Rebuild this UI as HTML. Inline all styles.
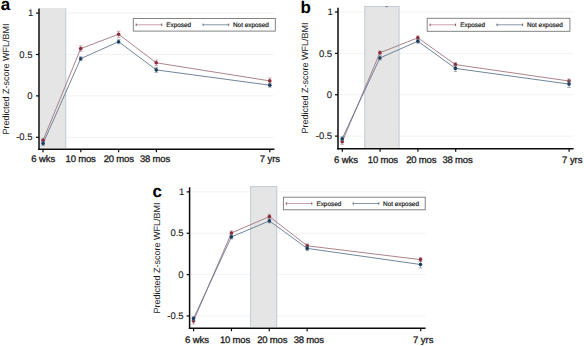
<!DOCTYPE html>
<html><head><meta charset="utf-8"><style>
html,body{margin:0;padding:0;background:#fff;width:584px;height:346px;overflow:hidden}
svg{display:block}
text{font-family:"Liberation Sans", sans-serif;fill:#1a1a1a;text-rendering:geometricPrecision}
.tk{font-size:9.5px;stroke:#1a1a1a;stroke-width:0.3px;letter-spacing:-0.05px}
.yt{stroke-width:0.12px}
.yl{font-size:9px}
.lg{font-size:6.4px;stroke:#1a1a1a;stroke-width:0.2px}
.pl{font-size:17px;font-weight:bold;fill:#000}
</style></head><body>
<svg width="584" height="346" viewBox="0 0 584 346">
<line x1="40" y1="13.1" x2="274.4" y2="13.1" stroke="#f1f2f3" stroke-width="1"/>
<line x1="40" y1="54.5" x2="274.4" y2="54.5" stroke="#f1f2f3" stroke-width="1"/>
<line x1="40" y1="95.9" x2="274.4" y2="95.9" stroke="#f1f2f3" stroke-width="1"/>
<line x1="40" y1="137.3" x2="274.4" y2="137.3" stroke="#f1f2f3" stroke-width="1"/>
<rect x="40" y="8" width="26.2" height="140" fill="#e5e5e5"/>
<line x1="65.7" y1="8" x2="65.7" y2="148" stroke="#c2ccd8" stroke-width="1"/>
<line x1="39" y1="8.4" x2="39" y2="150.1" stroke="#0a0a0a" stroke-width="1.5"/>
<line x1="38.25" y1="149.3" x2="274.4" y2="149.3" stroke="#0a0a0a" stroke-width="1.5"/>
<line x1="36" y1="13.1" x2="39" y2="13.1" stroke="#0a0a0a" stroke-width="1.2"/>
<text x="33.2" y="16.2" text-anchor="end" class="tk yt">1</text>
<line x1="36" y1="54.5" x2="39" y2="54.5" stroke="#0a0a0a" stroke-width="1.2"/>
<text x="32.4" y="57.6" text-anchor="end" class="tk yt">0.5</text>
<line x1="36" y1="95.9" x2="39" y2="95.9" stroke="#0a0a0a" stroke-width="1.2"/>
<text x="32.4" y="99" text-anchor="end" class="tk yt">0</text>
<line x1="36" y1="137.3" x2="39" y2="137.3" stroke="#0a0a0a" stroke-width="1.2"/>
<text x="32.4" y="140.4" text-anchor="end" class="tk yt">-0.5</text>
<line x1="43" y1="149.3" x2="43" y2="152.3" stroke="#0a0a0a" stroke-width="1.2"/>
<text x="43.15" y="161.9" text-anchor="middle" class="tk">6 wks</text>
<line x1="80.8" y1="149.3" x2="80.8" y2="152.3" stroke="#0a0a0a" stroke-width="1.2"/>
<text x="80.6" y="161.9" text-anchor="middle" class="tk" style="letter-spacing:-0.18px">10 mos</text>
<line x1="118.6" y1="149.3" x2="118.6" y2="152.3" stroke="#0a0a0a" stroke-width="1.2"/>
<text x="118.7" y="161.9" text-anchor="middle" class="tk" style="letter-spacing:-0.18px">20 mos</text>
<line x1="156.4" y1="149.3" x2="156.4" y2="152.3" stroke="#0a0a0a" stroke-width="1.2"/>
<text x="155" y="161.9" text-anchor="middle" class="tk" style="letter-spacing:-0.18px">38 mos</text>
<line x1="269.8" y1="149.3" x2="269.8" y2="152.3" stroke="#0a0a0a" stroke-width="1.2"/>
<text x="269.85" y="161.9" text-anchor="middle" class="tk">7 yrs</text>
<text transform="translate(8.8,78.9) rotate(-90)" text-anchor="middle" class="yl">Predicted Z-score WFL/BMI</text>
<text x="0.8" y="10" class="pl">a</text>
<polyline points="43.1,140.2 80.7,48.6 118.6,34.25 156.25,62.8 269.8,80.9" fill="none" stroke="#a27680" stroke-width="0.9"/>
<polyline points="43.1,143.4 80.7,58.7 118.6,41.7 156.25,69.9 269.8,85.2" fill="none" stroke="#62788e" stroke-width="0.9"/>
<path d="M43.1,138.2V142.2M41.3,138.2H44.9M41.3,142.2H44.9" stroke="#a27680" stroke-width="0.7" fill="none" opacity="0.8"/>
<circle cx="43.1" cy="140.2" r="1.8" fill="#8c2a3a"/>
<path d="M80.7,45.8V51.4M78.9,45.8H82.5M78.9,51.4H82.5" stroke="#a27680" stroke-width="0.7" fill="none" opacity="0.8"/>
<circle cx="80.7" cy="48.6" r="1.8" fill="#8c2a3a"/>
<path d="M118.6,31.25V37.25M116.8,31.25H120.4M116.8,37.25H120.4" stroke="#a27680" stroke-width="0.7" fill="none" opacity="0.8"/>
<circle cx="118.6" cy="34.25" r="1.8" fill="#8c2a3a"/>
<path d="M156.25,60V65.6M154.45,60H158.05M154.45,65.6H158.05" stroke="#a27680" stroke-width="0.7" fill="none" opacity="0.8"/>
<circle cx="156.25" cy="62.8" r="1.8" fill="#8c2a3a"/>
<path d="M269.8,77.9V83.9M268,77.9H271.6M268,83.9H271.6" stroke="#a27680" stroke-width="0.7" fill="none" opacity="0.8"/>
<circle cx="269.8" cy="80.9" r="1.8" fill="#8c2a3a"/>
<path d="M43.1,141.4V145.4M41.3,141.4H44.9M41.3,145.4H44.9" stroke="#62788e" stroke-width="0.7" fill="none" opacity="0.8"/>
<circle cx="43.1" cy="143.4" r="1.8" fill="#1c3f60"/>
<path d="M80.7,56.7V60.7M78.9,56.7H82.5M78.9,60.7H82.5" stroke="#62788e" stroke-width="0.7" fill="none" opacity="0.8"/>
<circle cx="80.7" cy="58.7" r="1.8" fill="#1c3f60"/>
<path d="M118.6,39.7V43.7M116.8,39.7H120.4M116.8,43.7H120.4" stroke="#62788e" stroke-width="0.7" fill="none" opacity="0.8"/>
<circle cx="118.6" cy="41.7" r="1.8" fill="#1c3f60"/>
<path d="M156.25,67.4V72.4M154.45,67.4H158.05M154.45,72.4H158.05" stroke="#62788e" stroke-width="0.7" fill="none" opacity="0.8"/>
<circle cx="156.25" cy="69.9" r="1.8" fill="#1c3f60"/>
<path d="M269.8,83.2V87.2M268,83.2H271.6M268,87.2H271.6" stroke="#62788e" stroke-width="0.7" fill="none" opacity="0.8"/>
<circle cx="269.8" cy="85.2" r="1.8" fill="#1c3f60"/>
<rect x="133.3" y="18.45" width="142" height="12.65" fill="#fff" stroke="#777" stroke-width="0.9"/>
<path d="M136.2,24.77H161.7" stroke="#c9a0a8" stroke-width="1" fill="none"/>
<path d="M136.2,23.57V25.97M161.7,23.57V25.97" stroke="#5a4048" stroke-width="1" fill="none" opacity="0.85"/>
<text x="166.3" y="27.38" class="lg">Exposed</text>
<path d="M203.1,24.77H228.7" stroke="#8898aa" stroke-width="1" fill="none"/>
<path d="M203.1,23.57V25.97M228.7,23.57V25.97" stroke="#42505e" stroke-width="1" fill="none" opacity="0.85"/>
<text x="233" y="27.38" class="lg">Not exposed</text>
<line x1="339" y1="12.05" x2="573.6" y2="12.05" stroke="#f1f2f3" stroke-width="1"/>
<line x1="339" y1="53.4" x2="573.6" y2="53.4" stroke="#f1f2f3" stroke-width="1"/>
<line x1="339" y1="94.75" x2="573.6" y2="94.75" stroke="#f1f2f3" stroke-width="1"/>
<line x1="339" y1="136.1" x2="573.6" y2="136.1" stroke="#f1f2f3" stroke-width="1"/>
<rect x="364.3" y="6" width="35.2" height="142" fill="#e5e5e5"/>
<line x1="399" y1="6" x2="399" y2="148" stroke="#c2ccd8" stroke-width="1"/>
<line x1="364.8" y1="6" x2="364.8" y2="148" stroke="#c2ccd8" stroke-width="1"/>
<line x1="364.3" y1="6.5" x2="399.5" y2="6.5" stroke="#c2ccd8" stroke-width="1"/>
<line x1="338" y1="7.8" x2="338" y2="149.6" stroke="#0a0a0a" stroke-width="1.5"/>
<line x1="337.25" y1="148.8" x2="573.6" y2="148.8" stroke="#0a0a0a" stroke-width="1.5"/>
<line x1="335" y1="12.05" x2="338" y2="12.05" stroke="#0a0a0a" stroke-width="1.2"/>
<text x="332.8" y="15.15" text-anchor="end" class="tk yt">1</text>
<line x1="335" y1="53.4" x2="338" y2="53.4" stroke="#0a0a0a" stroke-width="1.2"/>
<text x="332" y="56.5" text-anchor="end" class="tk yt">0.5</text>
<line x1="335" y1="94.75" x2="338" y2="94.75" stroke="#0a0a0a" stroke-width="1.2"/>
<text x="332" y="97.85" text-anchor="end" class="tk yt">0</text>
<line x1="335" y1="136.1" x2="338" y2="136.1" stroke="#0a0a0a" stroke-width="1.2"/>
<text x="332" y="139.2" text-anchor="end" class="tk yt">-0.5</text>
<line x1="342.3" y1="148.8" x2="342.3" y2="151.8" stroke="#0a0a0a" stroke-width="1.2"/>
<text x="345.95" y="162.6" text-anchor="middle" class="tk">6 wks</text>
<line x1="380.1" y1="148.8" x2="380.1" y2="151.8" stroke="#0a0a0a" stroke-width="1.2"/>
<text x="382.9" y="162.6" text-anchor="middle" class="tk" style="letter-spacing:-0.18px">10 mos</text>
<line x1="417.9" y1="148.8" x2="417.9" y2="151.8" stroke="#0a0a0a" stroke-width="1.2"/>
<text x="421.25" y="162.6" text-anchor="middle" class="tk" style="letter-spacing:-0.18px">20 mos</text>
<line x1="455.7" y1="148.8" x2="455.7" y2="151.8" stroke="#0a0a0a" stroke-width="1.2"/>
<text x="457.5" y="162.6" text-anchor="middle" class="tk" style="letter-spacing:-0.18px">38 mos</text>
<line x1="569.1" y1="148.8" x2="569.1" y2="151.8" stroke="#0a0a0a" stroke-width="1.2"/>
<text x="572.25" y="162.6" text-anchor="middle" class="tk">7 yrs</text>
<text transform="translate(308.3,77.9) rotate(-90)" text-anchor="middle" class="yl">Predicted Z-score WFL/BMI</text>
<text x="300.4" y="13.4" class="pl">b</text>
<polyline points="342.2,141.8 379.9,52.8 417.85,37.8 455.4,64.6 569,81" fill="none" stroke="#a27680" stroke-width="0.9"/>
<polyline points="342.2,138.7 379.9,58 417.85,41.2 455.4,68.4 569,84.1" fill="none" stroke="#62788e" stroke-width="0.9"/>
<path d="M342.2,139.2V144.4M340.4,139.2H344M340.4,144.4H344" stroke="#a27680" stroke-width="0.7" fill="none" opacity="0.8"/>
<circle cx="342.2" cy="141.8" r="1.8" fill="#8c2a3a"/>
<path d="M379.9,50.8V54.8M378.1,50.8H381.7M378.1,54.8H381.7" stroke="#a27680" stroke-width="0.7" fill="none" opacity="0.8"/>
<circle cx="379.9" cy="52.8" r="1.8" fill="#8c2a3a"/>
<path d="M417.85,35.8V39.8M416.05,35.8H419.65M416.05,39.8H419.65" stroke="#a27680" stroke-width="0.7" fill="none" opacity="0.8"/>
<circle cx="417.85" cy="37.8" r="1.8" fill="#8c2a3a"/>
<path d="M455.4,62.6V66.6M453.6,62.6H457.2M453.6,66.6H457.2" stroke="#a27680" stroke-width="0.7" fill="none" opacity="0.8"/>
<circle cx="455.4" cy="64.6" r="1.8" fill="#8c2a3a"/>
<path d="M569,79V83M567.2,79H570.8M567.2,83H570.8" stroke="#a27680" stroke-width="0.7" fill="none" opacity="0.8"/>
<circle cx="569" cy="81" r="1.8" fill="#8c2a3a"/>
<path d="M342.2,136.7V140.7M340.4,136.7H344M340.4,140.7H344" stroke="#62788e" stroke-width="0.7" fill="none" opacity="0.8"/>
<circle cx="342.2" cy="138.7" r="1.8" fill="#1c3f60"/>
<path d="M379.9,56V60M378.1,56H381.7M378.1,60H381.7" stroke="#62788e" stroke-width="0.7" fill="none" opacity="0.8"/>
<circle cx="379.9" cy="58" r="1.8" fill="#1c3f60"/>
<path d="M417.85,39.2V43.2M416.05,39.2H419.65M416.05,43.2H419.65" stroke="#62788e" stroke-width="0.7" fill="none" opacity="0.8"/>
<circle cx="417.85" cy="41.2" r="1.8" fill="#1c3f60"/>
<path d="M455.4,65.4V71.4M453.6,65.4H457.2M453.6,71.4H457.2" stroke="#62788e" stroke-width="0.7" fill="none" opacity="0.8"/>
<circle cx="455.4" cy="68.4" r="1.8" fill="#1c3f60"/>
<path d="M569,80.7V87.5M567.2,80.7H570.8M567.2,87.5H570.8" stroke="#62788e" stroke-width="0.7" fill="none" opacity="0.8"/>
<circle cx="569" cy="84.1" r="1.8" fill="#1c3f60"/>
<rect x="427.2" y="18.3" width="142.7" height="13" fill="#fff" stroke="#777" stroke-width="0.9"/>
<path d="M430.1,24.8H455.6" stroke="#c9a0a8" stroke-width="1" fill="none"/>
<path d="M430.1,23.6V26M455.6,23.6V26" stroke="#5a4048" stroke-width="1" fill="none" opacity="0.85"/>
<text x="460.2" y="27.4" class="lg">Exposed</text>
<path d="M497,24.8H522.6" stroke="#8898aa" stroke-width="1" fill="none"/>
<path d="M497,23.6V26M522.6,23.6V26" stroke="#42505e" stroke-width="1" fill="none" opacity="0.85"/>
<text x="526.9" y="27.4" class="lg">Not exposed</text>
<line x1="190.6" y1="191.9" x2="425.6" y2="191.9" stroke="#f1f2f3" stroke-width="1"/>
<line x1="190.6" y1="233.25" x2="425.6" y2="233.25" stroke="#f1f2f3" stroke-width="1"/>
<line x1="190.6" y1="274.6" x2="425.6" y2="274.6" stroke="#f1f2f3" stroke-width="1"/>
<line x1="190.6" y1="315.95" x2="425.6" y2="315.95" stroke="#f1f2f3" stroke-width="1"/>
<rect x="250.1" y="186.1" width="27.1" height="140.9" fill="#e5e5e5"/>
<line x1="276.7" y1="186.1" x2="276.7" y2="327" stroke="#c2ccd8" stroke-width="1"/>
<line x1="250.6" y1="186.1" x2="250.6" y2="327" stroke="#c2ccd8" stroke-width="1"/>
<line x1="250.1" y1="186.6" x2="277.2" y2="186.6" stroke="#c2ccd8" stroke-width="1"/>
<line x1="189.6" y1="187.3" x2="189.6" y2="329" stroke="#0a0a0a" stroke-width="1.5"/>
<line x1="188.85" y1="328.2" x2="425.6" y2="328.2" stroke="#0a0a0a" stroke-width="1.5"/>
<line x1="186.6" y1="191.9" x2="189.6" y2="191.9" stroke="#0a0a0a" stroke-width="1.2"/>
<text x="184.3" y="195" text-anchor="end" class="tk yt">1</text>
<line x1="186.6" y1="233.25" x2="189.6" y2="233.25" stroke="#0a0a0a" stroke-width="1.2"/>
<text x="183.5" y="236.35" text-anchor="end" class="tk yt">0.5</text>
<line x1="186.6" y1="274.6" x2="189.6" y2="274.6" stroke="#0a0a0a" stroke-width="1.2"/>
<text x="183.5" y="277.7" text-anchor="end" class="tk yt">0</text>
<line x1="186.6" y1="315.95" x2="189.6" y2="315.95" stroke="#0a0a0a" stroke-width="1.2"/>
<text x="183.5" y="319.05" text-anchor="end" class="tk yt">-0.5</text>
<line x1="193.6" y1="328.2" x2="193.6" y2="331.2" stroke="#0a0a0a" stroke-width="1.2"/>
<text x="196.9" y="342.7" text-anchor="middle" class="tk">6 wks</text>
<line x1="231.45" y1="328.2" x2="231.45" y2="331.2" stroke="#0a0a0a" stroke-width="1.2"/>
<text x="235" y="342.7" text-anchor="middle" class="tk" style="letter-spacing:-0.18px">10 mos</text>
<line x1="269.3" y1="328.2" x2="269.3" y2="331.2" stroke="#0a0a0a" stroke-width="1.2"/>
<text x="272.25" y="342.7" text-anchor="middle" class="tk" style="letter-spacing:-0.18px">20 mos</text>
<line x1="307.15" y1="328.2" x2="307.15" y2="331.2" stroke="#0a0a0a" stroke-width="1.2"/>
<text x="308.7" y="342.7" text-anchor="middle" class="tk" style="letter-spacing:-0.18px">38 mos</text>
<line x1="420.7" y1="328.2" x2="420.7" y2="331.2" stroke="#0a0a0a" stroke-width="1.2"/>
<text x="423.2" y="342.7" text-anchor="middle" class="tk">7 yrs</text>
<text transform="translate(159.5,258) rotate(-90)" text-anchor="middle" class="yl">Predicted Z-score WFL/BMI</text>
<text x="152.5" y="196.8" class="pl">c</text>
<polyline points="193.5,321 231.4,233 269.4,216.5 307.2,245.8 420.5,259.6" fill="none" stroke="#a27680" stroke-width="0.9"/>
<polyline points="193.5,318.6 231.4,236.9 269.4,220.9 307.2,248.4 420.5,264.5" fill="none" stroke="#62788e" stroke-width="0.9"/>
<path d="M193.5,318V324M191.7,318H195.3M191.7,324H195.3" stroke="#a27680" stroke-width="0.7" fill="none" opacity="0.8"/>
<circle cx="193.5" cy="321" r="1.8" fill="#8c2a3a"/>
<path d="M231.4,231V235M229.6,231H233.2M229.6,235H233.2" stroke="#a27680" stroke-width="0.7" fill="none" opacity="0.8"/>
<circle cx="231.4" cy="233" r="1.8" fill="#8c2a3a"/>
<path d="M269.4,214.3V218.7M267.6,214.3H271.2M267.6,218.7H271.2" stroke="#a27680" stroke-width="0.7" fill="none" opacity="0.8"/>
<circle cx="269.4" cy="216.5" r="1.8" fill="#8c2a3a"/>
<path d="M307.2,243.8V247.8M305.4,243.8H309M305.4,247.8H309" stroke="#a27680" stroke-width="0.7" fill="none" opacity="0.8"/>
<circle cx="307.2" cy="245.8" r="1.8" fill="#8c2a3a"/>
<path d="M420.5,257.4V261.8M418.7,257.4H422.3M418.7,261.8H422.3" stroke="#a27680" stroke-width="0.7" fill="none" opacity="0.8"/>
<circle cx="420.5" cy="259.6" r="1.8" fill="#8c2a3a"/>
<path d="M193.5,316.6V320.6M191.7,316.6H195.3M191.7,320.6H195.3" stroke="#62788e" stroke-width="0.7" fill="none" opacity="0.8"/>
<circle cx="193.5" cy="318.6" r="1.8" fill="#1c3f60"/>
<path d="M231.4,234.9V238.9M229.6,234.9H233.2M229.6,238.9H233.2" stroke="#62788e" stroke-width="0.7" fill="none" opacity="0.8"/>
<circle cx="231.4" cy="236.9" r="1.8" fill="#1c3f60"/>
<path d="M269.4,218.9V222.9M267.6,218.9H271.2M267.6,222.9H271.2" stroke="#62788e" stroke-width="0.7" fill="none" opacity="0.8"/>
<circle cx="269.4" cy="220.9" r="1.8" fill="#1c3f60"/>
<path d="M307.2,246.4V250.4M305.4,246.4H309M305.4,250.4H309" stroke="#62788e" stroke-width="0.7" fill="none" opacity="0.8"/>
<circle cx="307.2" cy="248.4" r="1.8" fill="#1c3f60"/>
<path d="M420.5,261.1V267.9M418.7,261.1H422.3M418.7,267.9H422.3" stroke="#62788e" stroke-width="0.7" fill="none" opacity="0.8"/>
<circle cx="420.5" cy="264.5" r="1.8" fill="#1c3f60"/>
<rect x="283.4" y="197.2" width="141.8" height="12.6" fill="#fff" stroke="#777" stroke-width="0.9"/>
<path d="M286.3,203.5H311.8" stroke="#c9a0a8" stroke-width="1" fill="none"/>
<path d="M286.3,202.3V204.7M311.8,202.3V204.7" stroke="#5a4048" stroke-width="1" fill="none" opacity="0.85"/>
<text x="316.4" y="206.1" class="lg">Exposed</text>
<path d="M353.2,203.5H378.8" stroke="#8898aa" stroke-width="1" fill="none"/>
<path d="M353.2,202.3V204.7M378.8,202.3V204.7" stroke="#42505e" stroke-width="1" fill="none" opacity="0.85"/>
<text x="383.1" y="206.1" class="lg">Not exposed</text>
<rect x="385.3" y="6" width="2.7" height="1.2" fill="#7a8aa0"/>
</svg>
</body></html>
